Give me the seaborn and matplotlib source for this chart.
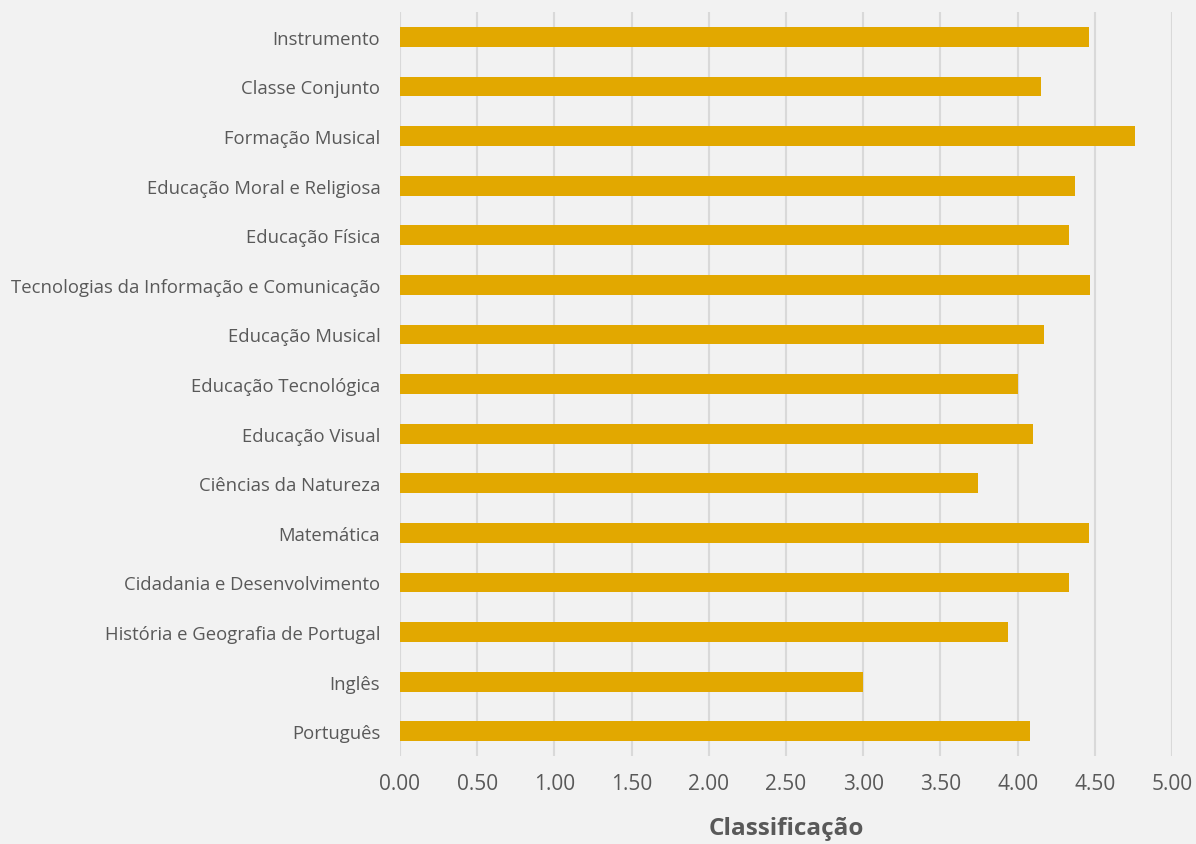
import matplotlib
matplotlib.use("Agg")
import matplotlib.pyplot as plt
import seaborn as sns
import pandas as pd

disciplinas = [
    "Instrumento",
    "Classe Conjunto",
    "Formação Musical",
    "Educação Moral e Religiosa",
    "Educação Física",
    "Tecnologias da Informação e Comunicação",
    "Educação Musical",
    "Educação Tecnológica",
    "Educação Visual",
    "Ciências da Natureza",
    "Matemática",
    "Cidadania e Desenvolvimento",
    "História e Geografia de Portugal",
    "Inglês",
    "Português",
]
classificacao = [4.46, 4.15, 4.76, 4.37, 4.33, 4.47, 4.17, 4.00, 4.10, 3.74, 4.46, 4.33, 3.94, 3.00, 4.08]
xticks = [0.0, 0.5, 1.0, 1.5, 2.0, 2.5, 3.0, 3.5, 4.0, 4.5, 5.0]

df = pd.DataFrame({"disciplina": disciplinas, "nota": classificacao})

sns.set_theme(style="white")
plt.rcParams["font.family"] = ["Open Sans", "DejaVu Sans"]

bg = "#F2F2F2"
txt = "#595959"

fig = plt.figure(figsize=(11.96, 8.45), dpi=100, facecolor=bg)
ax = fig.add_axes([0.3344, 0.104, 0.6456, 0.8806])
ax.set_facecolor(bg)

sns.barplot(data=df, x="nota", y="disciplina", color="#E2A800", width=0.4,
            saturation=1, linewidth=0, ax=ax, zorder=3)

ax.set_xlim(0, 5)
ax.set_xticks(xticks)
ax.set_xticklabels([f"{v:.2f}" for v in xticks], fontsize=15, color=txt)
ax.tick_params(axis="y", labelsize=13.3, labelcolor=txt, length=0, pad=20)
ax.tick_params(axis="x", length=0, pad=12)
for lab in ax.get_yticklabels():
    lab.set_x(-0.002)
ax.tick_params(axis="y", pad=13)
ax.set_ylabel("")
ax.set_xlabel("Classificação", fontsize=17.5, fontweight="bold", color=txt, labelpad=16)
ax.xaxis.grid(True, color="#D9D9D9", linewidth=1.5, zorder=0)
ax.set_axisbelow(True)
for s in ax.spines.values():
    s.set_visible(False)

fig.savefig("out.png", dpi=100, facecolor=bg)
